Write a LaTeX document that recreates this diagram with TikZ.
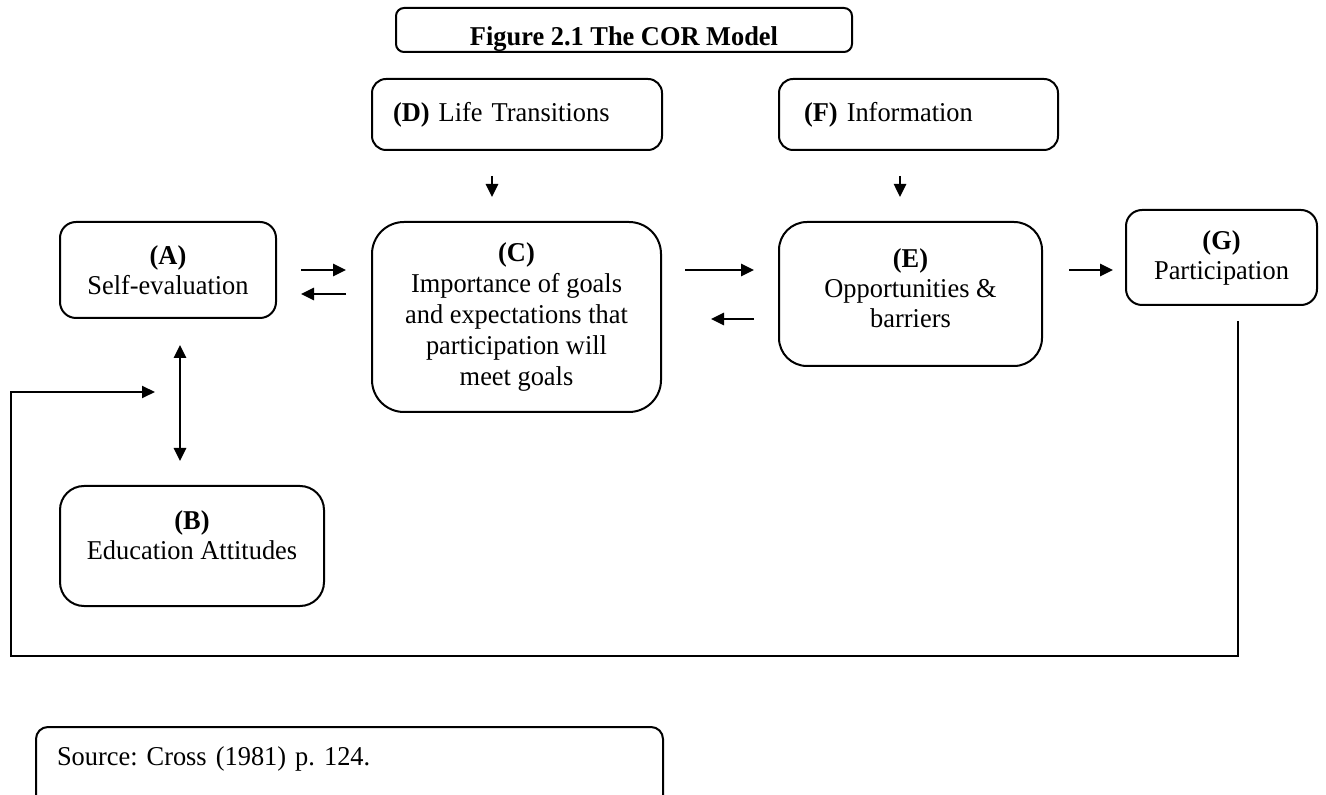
\documentclass[tikz,border=0pt]{standalone}
\usepackage{fontspec}
\setmainfont[FakeStretch=0.97]{Liberation Serif}
\usetikzlibrary{arrows.meta,positioning,calc}

\begin{document}
\frenchspacing
\begin{tikzpicture}[x=0.5pt,y=-0.5pt,>={Triangle[length=6.5pt,width=6pt]},
  box/.style={draw,line width=1pt,rounded corners=#1,inner sep=0pt,font=\fontsize{13.6}{15}\selectfont},
  box/.default=7pt,
  arr/.style={->,line width=1.3pt}]
\useasboundingbox (0,0) rectangle (1326,795);
% boxes
\node[box=4pt,minimum width=228pt,minimum height=22pt,text height=16pt,text depth=0pt,font=\fontsize{13.6}{15}\selectfont\bfseries] (title) at (624,30) {Figure 2.1 The COR Model};
\node[box,minimum width=145pt,minimum height=35.5pt,align=left,inner xsep=10.5pt,text width=124pt] (D) at (517,114.5) {\textbf{(D)} Life Transitions};
\node[box,minimum width=139.5pt,minimum height=35.5pt,align=left,inner xsep=12.5pt,text width=114.5pt] (F) at (918.5,114.5) {\textbf{(F)} Information};
\node[box=8pt,minimum width=108pt,minimum height=48pt,align=center] (A) at (168,270) {\textbf{(A)}\\Self-evaluation};
\node[box=16pt,minimum width=144.5pt,minimum height=95pt,align=center,font=\fontsize{13.6}{15.5}\selectfont] (C) at (516.5,317) {\textbf{(C)}\\Importance of goals\\and expectations that\\participation will\\meet goals};
\node[box=14pt,minimum width=131.5pt,minimum height=72pt,align=center] (E) at (910.5,294) {\textbf{(E)}\\Opportunities \&\\barriers\\[-9pt]};
\node[box=8pt,minimum width=95.5pt,minimum height=47.5pt,align=center] (G) at (1221.5,257.5) {\textbf{(G)}\\Participation};
\node[box=12pt,minimum width=132pt,minimum height=60pt,align=center] (B) at (192,546) {\textbf{(B)}\\Education Attitudes\\[-4pt]};
\node[box=6pt,minimum width=313.5pt,minimum height=40pt,align=left,inner xsep=10.5pt,text width=292.5pt,text height=10pt,text depth=12pt] (src) at (349.5,767) {Source: Cross (1981) p. 124.};
% arrows between boxes
\draw[arr,shorten <=12pt,shorten >=12.5pt] (A.east) -- (A.east -| C.west);
\draw[arr,shorten <=12.5pt,shorten >=12pt] ([yshift=-12pt]A.east -| C.west) -- ([yshift=-12pt]A.east);
\draw[arr,shorten <=11.5pt,shorten >=12pt] (C.east |- A.east) -- (E.west |- A.east);
\draw[arr,shorten <=12pt,shorten >=24.5pt] ([yshift=-1pt]E.west |- C.east) -- ([yshift=-1pt]C.east);
\draw[arr,shorten <=13pt,shorten >=6pt] (E.east |- A.east) -- (G.west |- A.east);
\foreach \up/\down/\dx in {D/C/-12.5pt, F/E/-9.25pt}
  \draw[arr,shorten <=12.5pt,shorten >=12pt] ([xshift=\dx]\up.south) -- ([xshift=\dx]\up.south |- \down.north);
\draw[arr,<->,shorten <=13pt,shorten >=12pt] ([xshift=6pt]A.south) -- ([xshift=6pt]A.south |- B.north);
% feedback loop
\coordinate (loopL) at (11,656);
\coordinate (loopEnd) at (155,392);
\draw[->,line width=1pt] ([xshift=8.25pt,yshift=-7.5pt]G.south) |- (loopL) |- (loopEnd);
\end{tikzpicture}
\end{document}
